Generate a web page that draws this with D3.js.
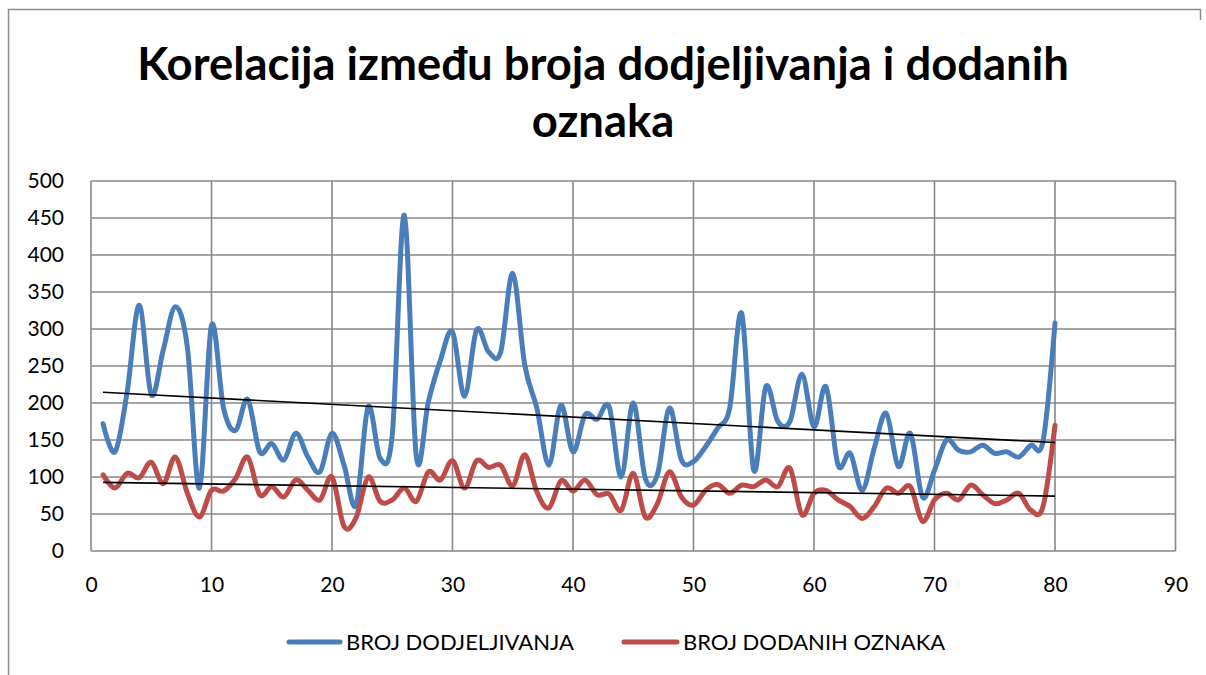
<!DOCTYPE html>
<html>
<head>
<meta charset="utf-8">
<script src="https://cdn.jsdelivr.net/npm/d3@7"></script>
<style>
  html, body { margin: 0; padding: 0; background: #fff; }
  svg { display: block; }
  text { font-family: Lato, "Open Sans", sans-serif; fill: #000; }
</style>
</head>
<body>
<svg id="chart" width="1206" height="675"></svg>
<script>
// Title lines
const titleLines = ["Korelacija između broja dodjeljivanja i dodanih", "oznaka"];

// Series names
const seriesNames = ["BROJ DODJELJIVANJA", "BROJ DODANIH OZNAKA"];

// Axis ticks
const xTicks = [0, 10, 20, 30, 40, 50, 60, 70, 80, 90];
const yTicks = [0, 50, 100, 150, 200, 250, 300, 350, 400, 450, 500];

// x positions 1..80
const xs = d3.range(1, 81);

// BROJ DODJELJIVANJA
const dodjeljivanja = [
  172, 134, 215, 332, 211, 272, 330, 275, 85, 305,
  193, 163, 205, 134, 145, 123, 159, 127, 107, 159,
  116, 62, 195, 125, 157, 454, 127, 202, 258, 296,
  209, 299, 269, 269, 375, 251, 193, 116, 197, 134,
  184, 178, 195, 100, 200, 98, 103, 193, 123, 121,
  141, 166, 193, 321, 109, 222, 175, 175, 239, 168,
  222, 116, 132, 82, 139, 186, 114, 159, 73, 109,
  150, 136, 134, 143, 132, 134, 127, 143, 148, 308
];

// BROJ DODANIH OZNAKA
const oznake = [
  103, 85, 105, 99, 120, 91, 127, 78, 46, 82,
  81, 98, 127, 76, 87, 73, 96, 82, 69, 100,
  33, 45, 100, 67, 69, 85, 67, 107, 96, 122,
  85, 122, 113, 116, 88, 130, 80, 58, 95, 81,
  96, 76, 77, 55, 105, 46, 64, 107, 73, 62,
  82, 90, 78, 89, 87, 96, 87, 112, 49, 78,
  82, 69, 60, 44, 60, 85, 78, 87, 40, 69,
  78, 69, 89, 76, 64, 69, 78, 55, 60, 170
];

const colors = ["#4A7EBB", "#BE4B48"];

const svg = d3.select("#chart");

// Outer chart frame
const frame = svg.append("g").attr("stroke", "#8c8c8c").attr("stroke-width", 1.5).attr("fill", "none");
frame.append("path").attr("d", "M8.5,675 L8.5,9.5 L1200.5,9.5 L1200.5,20");

// Title
const title = svg.append("g");
titleLines.forEach((t, i) => {
  title.append("text")
    .attr("x", 603)
    .attr("y", i === 0 ? 80 : 137)
    .attr("text-anchor", "middle")
    .attr("font-weight", "bold")
    .attr("font-size", 44)
    .text(t);
});
// fit first title line to its width
{
  const t0 = title.select("text").node();
  const w = t0.getComputedTextLength();
  const s = 44 * 932 / w;
  title.selectAll("text").attr("font-size", s);
}

const plot = { left: 91, right: 1175.5, top: 181, bottom: 551 };

const x = d3.scaleLinear().domain([0, 90]).range([plot.left, plot.right]);
const y = d3.scaleLinear().domain([0, 500]).range([plot.bottom, plot.top]);

// Grid lines
const grid = svg.append("g").attr("stroke", "#878787").attr("stroke-width", 1.6);
grid.selectAll("line.h").data(yTicks).join("line")
  .attr("x1", plot.left).attr("x2", plot.right)
  .attr("y1", d => y(d)).attr("y2", d => y(d));
grid.selectAll("line.v").data(xTicks).join("line")
  .attr("y1", plot.top).attr("y2", plot.bottom)
  .attr("x1", d => x(d)).attr("x2", d => x(d));

// Y axis labels
const yAxis = d3.axisLeft(y).tickValues(yTicks).tickSize(0).tickPadding(27);
svg.append("g").attr("transform", `translate(${plot.left},0)`).call(yAxis)
  .call(g => g.select(".domain").remove())
  .call(g => g.selectAll("text").attr("font-size", 21).attr("font-family", "Lato, sans-serif").attr("fill", "#000"));

// X axis labels
const xAxis = d3.axisBottom(x).tickValues(xTicks).tickSize(0).tickPadding(26);
svg.append("g").attr("transform", `translate(0,${plot.bottom})`).call(xAxis)
  .call(g => g.select(".domain").remove())
  .call(g => g.selectAll("text").attr("font-size", 21).attr("font-family", "Lato, sans-serif").attr("fill", "#000"));

// Smoothed series lines
const line = d3.line()
  .x((d, i) => x(xs[i]))
  .y(d => y(d))
  .curve(d3.curveCardinal.tension(0));

[dodjeljivanja, oznake].forEach((s, k) => {
  svg.append("path")
    .datum(s)
    .attr("fill", "none")
    .attr("stroke", colors[k])
    .attr("stroke-width", 5)
    .attr("stroke-linejoin", "round")
    .attr("stroke-linecap", "round")
    .attr("d", line);
});

// Linear trend lines (least squares)
function trend(vals) {
  const n = vals.length;
  const mx = d3.mean(xs), my = d3.mean(vals);
  let sxy = 0, sxx = 0;
  for (let i = 0; i < n; i++) {
    sxy += (xs[i] - mx) * (vals[i] - my);
    sxx += (xs[i] - mx) * (xs[i] - mx);
  }
  const b = sxy / sxx, a = my - b * mx;
  return [xs[0], xs[n - 1]].map(v => [v, a + b * v]);
}
[dodjeljivanja, oznake].forEach(s => {
  const pts = trend(s);
  svg.append("line")
    .attr("x1", x(pts[0][0])).attr("y1", y(pts[0][1]))
    .attr("x2", x(pts[1][0])).attr("y2", y(pts[1][1]))
    .attr("stroke", "#000").attr("stroke-width", 1.6);
});

// Legend
const legend = svg.append("g");
const legendItems = [
  { x0: 289, x1: 340, tx: 346 },
  { x0: 624, x1: 677, tx: 683 }
];
seriesNames.forEach((name, i) => {
  const it = legendItems[i];
  legend.append("line")
    .attr("x1", it.x0).attr("x2", it.x1)
    .attr("y1", 642).attr("y2", 642)
    .attr("stroke", colors[i]).attr("stroke-width", 5).attr("stroke-linecap", "round");
  legend.append("text")
    .attr("x", it.tx).attr("y", 650)
    .attr("font-size", 22)
    .text(name);
});
</script>
</body>
</html>
